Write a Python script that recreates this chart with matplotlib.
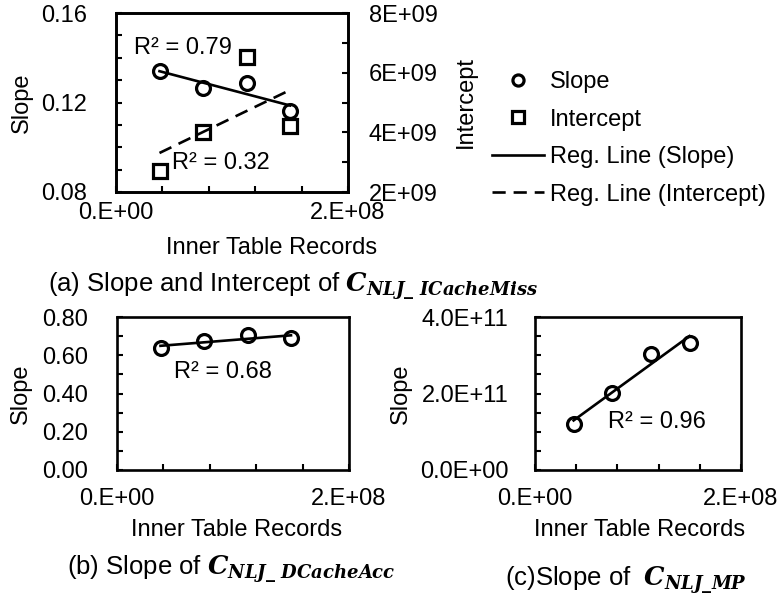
import numpy as np
import matplotlib
matplotlib.use('Agg')
from matplotlib import pyplot as plt

plt.rcParams['font.family'] = ['Liberation Sans', 'DejaVu Sans']
plt.rcParams['font.size'] = 17
plt.rcParams['mathtext.fontset'] = 'custom'
plt.rcParams['mathtext.it'] = 'DejaVu Serif:italic:bold'
plt.rcParams['mathtext.rm'] = 'DejaVu Serif:bold'

W, H = 783, 599

# inner table sizes and fitted coefficients
records = [3.75e7, 7.5e7, 1.125e8, 1.5e8]
icache_slope = [0.1341, 0.1263, 0.1286, 0.1163]
icache_intercept = [2.70e9, 4.02e9, 6.52e9, 4.21e9]
dcache_slope = [0.637, 0.677, 0.704, 0.689]
mp_slope = [1.21e11, 2.026e11, 3.034e11, 3.324e11]
r2_labels = ['R² = 0.79', 'R² = 0.32', 'R² = 0.68', 'R² = 0.96']

x_ticks = [0, 2e8]
x_ticklabels = ['0.E+00', '2.E+08']
x_minor = [4e7, 8e7, 1.2e8, 1.6e8]

marker_kw = dict(ls='none', mfc='none', mec='black', mew=2.3, ms=10)
CAPTION_SIZE = 18.5


def px_axes(fig, left, top, right, bottom):
    return fig.add_axes([left / W, 1 - bottom / H, (right - left) / W, (bottom - top) / H])


def reg_line(ax, x, y, **kw):
    k, b = np.polyfit(x, y, 1)
    xs = np.array([min(x), max(x)])
    h, = ax.plot(xs, k * xs + b, color='black', lw=1.9, **kw)
    return h


def style(ax, ylim, yticks, yticklabels, yminor, ypad=21, xpad=7):
    ax.set_xlim(0, 2e8)
    ax.set_ylim(*ylim)
    ax.set_xticks(x_ticks, x_ticklabels)
    ax.set_xticks(x_minor, minor=True)
    ax.set_yticks(yticks, yticklabels)
    ax.set_yticks(yminor, minor=True)
    ax.tick_params(which='both', direction='in', length=4, width=1.5, color='black')
    ax.tick_params(axis='x', pad=xpad)
    ax.tick_params(axis='y', pad=ypad)
    for s in ax.spines.values():
        s.set_linewidth(1.9)


fig = plt.figure(figsize=(W / 100, H / 100), dpi=100)

# (a) slope and intercept of the ICacheMiss model
ax = px_axes(fig, 116, 13, 348, 192)
ax2 = ax.twinx()
style(ax, (0.08, 0.16), [0.08, 0.12, 0.16], ['0.08', '0.12', '0.16'],
      [0.09, 0.10, 0.11, 0.13, 0.14, 0.15])
style(ax2, (2e9, 8e9), [2e9, 4e9, 6e9, 8e9], ['2E+09', '4E+09', '6E+09', '8E+09'],
      [3e9, 5e9, 7e9], ypad=15)
ax2.tick_params(axis='x', which='both', length=0)

h_slope, = ax.plot(records, icache_slope, marker='o', label='Slope', **marker_kw)
h_int, = ax2.plot(records, icache_intercept, marker='s', label='Intercept', **marker_kw)
h_reg1 = reg_line(ax, records, icache_slope, label='Reg. Line (Slope)')
h_reg2 = reg_line(ax2, records, icache_intercept, ls=(0, (5, 3)),
                  label='Reg. Line (Intercept)')

ax.text(1.55e7, 0.1444, r2_labels[0], va='center')
ax2.text(4.8e7, 2.97e9, r2_labels[1], va='center')

ax.set_ylabel('Slope')
ax.yaxis.set_label_coords(-0.36, 0.5)
ax2.set_ylabel('Intercept')
ax2.yaxis.set_label_coords(1.46, 0.5)
ax.set_xlabel('Inner Table Records')
ax.xaxis.set_label_coords(0.672, -0.25)

fig.legend(handles=[h_slope, h_int, h_reg1, h_reg2], loc='upper left',
           bbox_to_anchor=(492 / W, 1 - 71 / H), frameon=False, borderpad=0,
           borderaxespad=0, handlelength=2.2, handletextpad=0.25,
           labelspacing=0.66, markerscale=0.8, numpoints=1)

fig.text(48 / W, 1 - 291 / H,
         r'(a) Slope and Intercept of $C_{NLJ\_\ ICacheMiss}$', va='baseline',
         fontsize=CAPTION_SIZE)

# (b) slope of the DCacheAcc model
bx = px_axes(fig, 117, 317, 349, 470)
style(bx, (0, 0.8), [0, 0.2, 0.4, 0.6, 0.8], ['0.00', '0.20', '0.40', '0.60', '0.80'],
      [0.1, 0.3, 0.5, 0.7], xpad=13)
bx.plot(records, dcache_slope, marker='o', **marker_kw)
reg_line(bx, records, dcache_slope)
bx.text(4.9e7, 0.512, r2_labels[2], va='center')
bx.set_ylabel('Slope')
bx.yaxis.set_label_coords(-0.366, 0.5)
bx.set_xlabel('Inner Table Records')
bx.xaxis.set_label_coords(0.517, -0.32)
fig.text(67 / W, 1 - 574 / H, r'(b) Slope of $C_{NLJ\_\ DCacheAcc}$', va='baseline',
         fontsize=CAPTION_SIZE)

# (c) slope of the MP model
cx = px_axes(fig, 535, 317, 741, 470)
style(cx, (0, 4e11), [0, 2e11, 4e11], ['0.0E+00', '2.0E+11', '4.0E+11'],
      [5e10, 1e11, 1.5e11, 2.5e11, 3e11, 3.5e11], ypad=19, xpad=13)
cx.plot(records, mp_slope, marker='o', **marker_kw)
reg_line(cx, records, mp_slope)
cx.text(7.1e7, 1.255e11, r2_labels[3], va='center')
cx.set_ylabel('Slope')
cx.yaxis.set_label_coords(-0.597, 0.5)
cx.set_xlabel('Inner Table Records')
cx.xaxis.set_label_coords(0.51, -0.32)
fig.text(505 / W, 1 - 585 / H, r'(c)Slope of  $C_{NLJ\_MP}$', va='baseline',
         fontsize=CAPTION_SIZE)

fig.savefig('out.png', dpi=100)
